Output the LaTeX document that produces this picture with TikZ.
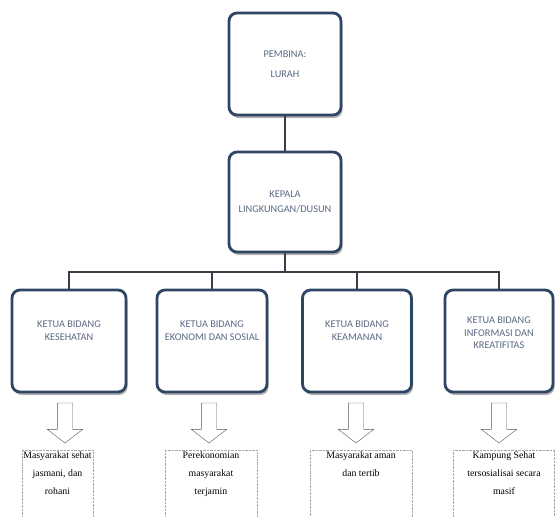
\documentclass[tikz,border=0pt]{standalone}
\usepackage{fontspec}
\setmainfont{Liberation Serif}
\newfontfamily\boxfont{Carlito}
\usetikzlibrary{shapes.arrows,shadows}
\definecolor{boxline}{RGB}{46,70,100}
\definecolor{boxtext}{RGB}{90,105,130}
\definecolor{linkgray}{RGB}{58,62,72}

\begin{document}
\begin{tikzpicture}[%
    x=1pt, y=-1pt,              % work in pixels, top-down
    every node/.style={align=center},
    ]
% -------------------------------------------------
% A few box styles
\tikzset{
  unit/.style={draw=boxline, line width=2.8pt, rounded corners=8pt, fill=white,
    minimum width=112pt, minimum height=102pt, text=boxtext,
    font=\boxfont\fontsize{10.3}{12.5}\selectfont,
    drop shadow={shadow xshift=1.5pt, shadow yshift=-3pt, fill=black!55, opacity=.55}},
  % Connector line style
  link/.style={draw=linkgray, line width=1.8pt},
  down/.style={single arrow, rotate=-90, draw=black!65, thin, fill=white,
    minimum height=40pt, inner sep=0pt, text height=15pt, text depth=0pt,
    single arrow head extend=10pt, single arrow head indent=0pt,
    single arrow tip angle=105},
  goal/.style={draw=black!35, densely dotted, anchor=north, inner sep=1pt,
    font=\fontsize{9.8}{18}\selectfont}
}
\useasboundingbox (0,0) rectangle (555,517);
% -------------------------------------------------
% Start by placing the boxes
\node [unit, minimum height=102pt] (lurah) at (285,64) {PEMBINA:\\[7pt]LURAH};
\node [unit, minimum height=100pt] (kepala) at (285,202) {KEPALA\\[2pt]LINGKUNGAN/DUSUN};

\node [unit, minimum width=114pt] (sehat) at (69,341) {KETUA BIDANG\\KESEHATAN\\[8pt]};
\node [unit, minimum width=110pt] (ekonomi) at (212,341) {KETUA BIDANG\\EKONOMI DAN SOSIAL\\[8pt]};
\node [unit, minimum width=109pt] (aman) at (357,341) {KETUA BIDANG\\KEAMANAN\\[8pt]};
\node [unit, minimum width=108pt] (info) at (499,341) {KETUA BIDANG\\INFORMASI DAN\\KREATIFITAS\\[4pt]};

% Connectors
\coordinate (bus) at (285,272);
\draw [link] (lurah) -- (kepala);
\draw [link] (kepala) -- (bus);
\draw [link] (sehat.north) |- (bus) -| (info.north);
\draw [link] (ekonomi.north) -- (ekonomi.north |- bus);
\draw [link] (aman.north) -- (aman.north |- bus);

% -------------------------------------------------
% Hollow arrows and the goals below them
\node [down] (a1) at (65,420) {};
\node [down] (a2) at (209,420) {};
\node [down] (a3) at (356,420) {};
\node [down] (a4) at (499,420) {};

\node [goal] (g1) at (57.5,450)
  {\parbox[t][69pt][t]{69pt}{\centering Masyarakat sehat\\jasmani, dan\\rohani}};
\node [goal] (g2) at (211,450)
  {\parbox[t][69pt][t]{90pt}{\centering Perekonomian\\masyarakat\\terjamin}};
\node [goal] (g3) at (361,450)
  {\parbox[t][69pt][t]{100pt}{\centering Masyarakat aman\\dan tertib}};
\node [goal] (g4) at (504,450)
  {\parbox[t][69pt][t]{99pt}{\centering Kampung Sehat\\tersosialisai secara\\masif}};
% -------------------------------------------------
\end{tikzpicture}
\end{document}
